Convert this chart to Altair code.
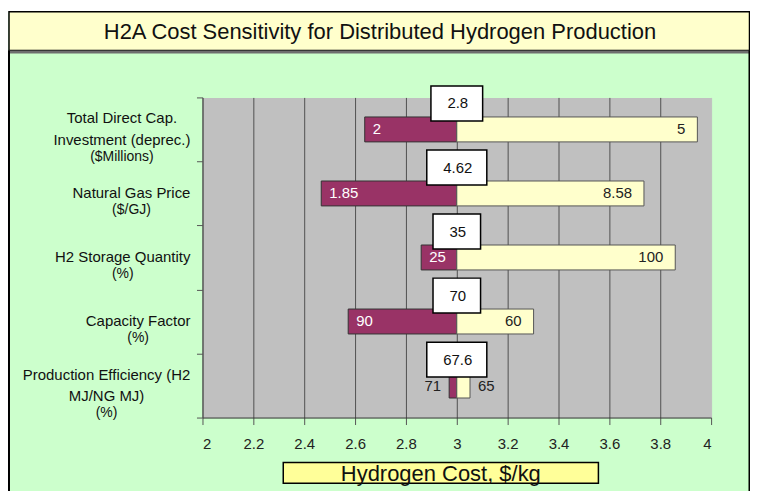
import altair as alt
import pandas as pd

# ---------------- data ----------------
categories = [
    "Total Direct Cap. Investment",
    "Natural Gas Price",
    "H2 Storage Quantity",
    "Capacity Factor",
    "Production Efficiency",
]
label_main = [
    ["Total Direct Cap.", "Investment (deprec.)"],
    ["Natural Gas Price"],
    ["H2 Storage Quantity"],
    ["Capacity Factor"],
    ["Production Efficiency (H2", "MJ/NG MJ)"],
]
label_unit = ["($Millions)", "($/GJ)", "(%)", "(%)", "(%)"]

base_cost = 3.0
cost_low = [2.638, 2.467, 2.860, 2.573, 2.970]
cost_high = [3.946, 3.736, 3.859, 3.302, 3.052]
param_low = ["2", "1.85", "25", "90", "71"]
param_high = ["5", "8.58", "100", "60", "65"]
param_base = ["2.8", "4.62", "35", "70", "67.6"]

x_ticks = [2.0, 2.2, 2.4, 2.6, 2.8, 3.0, 3.2, 3.4, 3.6, 3.8, 4.0]

chart_title = "H2A Cost Sensitivity for Distributed Hydrogen Production"
x_title = "Hydrogen Cost, $/kg"

# ---------------- styling ----------------
FONT = "Liberation Sans"
MAROON = "#993366"
PALE = "#FFFFCC"
GREEN = "#CCFFCC"
PLOT_GRAY = "#C0C0C0"
W, H = 510, 321
BAND = H / len(categories)
UNIT_SIZE = 14

HELV = {' ': 278, '(': 333, ')': 333, '.': 278, ',': 278, '/': 278, '$': 556, '%': 889,
        'A': 667, 'B': 667, 'C': 722, 'D': 722, 'E': 667, 'F': 611, 'G': 778, 'H': 722,
        'I': 278, 'J': 500, 'K': 667, 'L': 556, 'M': 833, 'N': 722, 'O': 778, 'P': 667,
        'Q': 778, 'R': 722, 'S': 667, 'T': 611, 'U': 722, 'V': 667, 'W': 944, 'X': 667,
        'Y': 667, 'Z': 611, 'a': 556, 'b': 556, 'c': 500, 'd': 556, 'e': 556, 'f': 278,
        'g': 556, 'h': 556, 'i': 222, 'j': 222, 'k': 500, 'l': 222, 'm': 833, 'n': 556,
        'o': 556, 'p': 556, 'q': 556, 'r': 333, 's': 500, 't': 278, 'u': 556, 'v': 500,
        'w': 722, 'x': 500, 'y': 500, 'z': 500}


def text_width(s, size):
    return sum(HELV.get(c, 556) for c in s) * size / 1000.0


df = pd.DataFrame({
    "cat": categories,
    "lo": cost_low,
    "hi": cost_high,
    "base": [base_cost] * len(categories),
    "p_lo": param_low,
    "p_hi": param_high,
    "p_base": param_base,
})
df["lo_in"] = (df["base"] - df["lo"]) >= 0.1
df["hi_in"] = (df["hi"] - df["base"]) >= 0.1

# label lines for the category axis (offsets measured from the band top)
rows = []
for cat, mains, unit in zip(categories, label_main, label_unit):
    n = len(mains)
    maxw = max([text_width(m, 15) for m in mains] + [text_width(unit, UNIT_SIZE)])
    cx = -12 - maxw / 2.0
    offs = [(k - (n - 1) / 2.0) * 22 for k in range(n)]
    for m, o in zip(mains, offs):
        rows.append({"cat": cat, "t": m, "kind": "main", "lx": cx, "dy": BAND / 2 + o})
    rows.append({"cat": cat, "t": unit, "kind": "unit", "lx": cx, "dy": BAND / 2 + offs[-1] + 17})
lab = pd.DataFrame(rows)

one = pd.DataFrame({"k": [0]})

X_SCALE = alt.Scale(domain=[2, 4], nice=False, zero=False)
X_AXIS = alt.Axis(values=x_ticks, format=".1~f", grid=True,
                  gridColor={"condition": {"test": "datum.value >= 4", "value": PLOT_GRAY},
                             "value": "#505050"},
                  gridWidth=1, tickSize=7, tickColor="#555555", domainColor="#333333",
                  labelFontSize=15, labelColor="#222222", labelPadding=12, labelFont=FONT,
                  title=None)
Y_SCALE = alt.Scale(paddingInner=0, paddingOuter=0)
Y_AXIS = alt.Axis(labels=False, title=None, tickBand="extent", tickSize=6,
                  tickColor="#555555", domainColor="#555555", grid=False)


def X(field):
    return alt.X(field, type="quantitative", scale=X_SCALE, axis=X_AXIS)


Y = alt.Y("cat:N", sort=categories, scale=Y_SCALE, axis=Y_AXIS)

layers = []

# ---- frame decorations ----
layers.append(alt.Chart(one).mark_rect(fill="white").encode(
    x=alt.value(-196), x2=alt.value(552), y=alt.value(-92), y2=alt.value(-86)))
layers.append(alt.Chart(one).mark_rect(fill=PALE, stroke="black", strokeWidth=1.5).encode(
    x=alt.value(-194), x2=alt.value(548.5), y=alt.value(-86), y2=alt.value(-47)))
layers.append(alt.Chart(one).mark_rect(fill="#6e6e6e").encode(
    x=alt.value(-194), x2=alt.value(548.5), y=alt.value(-47), y2=alt.value(-44)))
layers.append(alt.Chart(one).mark_rule(color="black", strokeWidth=2).encode(
    x=alt.value(-194), y=alt.value(-47), y2=alt.value(420)))
layers.append(alt.Chart(one).mark_rule(color="black", strokeWidth=2).encode(
    x=alt.value(548.5), y=alt.value(-47), y2=alt.value(420)))
layers.append(alt.Chart(one).mark_text(fontSize=22, font=FONT, color="#111111",
                                       baseline="middle", align="center").encode(
    x=alt.value(178), y=alt.value(-66), text=alt.value(chart_title)))
# x-axis title box
layers.append(alt.Chart(one).mark_rect(fill="#FFFF99", stroke="black", strokeWidth=1.5).encode(
    x=alt.value(81), x2=alt.value(397), y=alt.value(366), y2=alt.value(387)))
layers.append(alt.Chart(one).mark_text(fontSize=22, font=FONT, color="#111111",
                                       baseline="middle", align="center").encode(
    x=alt.value(239), y=alt.value(378), text=alt.value(x_title)))

# ---- bars ----
layers.append(alt.Chart(df).mark_bar(size=25, fill=MAROON, stroke="#333333", strokeWidth=1).encode(
    x=X("lo"), x2="base", y=Y))
layers.append(alt.Chart(df).mark_bar(size=25, fill=PALE, stroke="#555555", strokeWidth=1).encode(
    x=X("base"), x2="hi", y=Y))

# ---- bar labels ----
lbl = dict(fontSize=15, font=FONT, baseline="middle")
layers.append(alt.Chart(df[df["lo_in"]]).mark_text(align="left", dx=8, color="white", **lbl).encode(
    x=X("lo"), y=Y, text="p_lo:N"))
layers.append(alt.Chart(df[~df["lo_in"]]).mark_text(align="right", dx=-8, color="#222222", **lbl).encode(
    x=X("lo"), y=Y, text="p_lo:N"))
layers.append(alt.Chart(df[df["hi_in"]]).mark_text(align="right", dx=-12, color="#222222", **lbl).encode(
    x=X("hi"), y=Y, text="p_hi:N"))
layers.append(alt.Chart(df[~df["hi_in"]]).mark_text(align="left", dx=8, color="#222222", **lbl).encode(
    x=X("hi"), y=Y, text="p_hi:N"))

# ---- base-value boxes ----
for _, r in df.iterrows():
    w = text_width(r["p_base"], 15) + 31
    sub = df[df["cat"] == r["cat"]]
    layers.append(alt.Chart(sub).mark_bar(size=35, yOffset=-26, xOffset=-w / 2, x2Offset=w / 2,
                                          fill="white", stroke="black", strokeWidth=1.5).encode(
        x=X("base"), x2="base", y=Y))
layers.append(alt.Chart(df).mark_text(yOffset=-26, dx=1, color="#111111", **lbl).encode(
    x=X("base"), y=Y, text="p_base:N"))

# ---- category labels ----
layers.append(alt.Chart(lab[lab["kind"] == "main"]).mark_text(
    fontSize=15, font=FONT, color="#111111", align="center", baseline="middle").encode(
    x=alt.X("lx:Q", scale=None, axis=None), y=Y,
    yOffset=alt.YOffset("dy:Q", scale=None), text="t:N"))
layers.append(alt.Chart(lab[lab["kind"] == "unit"]).mark_text(
    fontSize=UNIT_SIZE, font=FONT, color="#111111", align="center", baseline="middle").encode(
    x=alt.X("lx:Q", scale=None, axis=None), y=Y,
    yOffset=alt.YOffset("dy:Q", scale=None), text="t:N"))

chart = alt.layer(*layers).properties(
    width=W, height=H,
    padding={"left": 195, "top": 89, "right": 39, "bottom": 75},
    autosize=alt.AutoSizeParams(type="none"),
).configure(background=GREEN, font=FONT).configure_view(fill=PLOT_GRAY, stroke="transparent")

chart.save("out.html", embed_options={"renderer": "svg", "actions": False})
